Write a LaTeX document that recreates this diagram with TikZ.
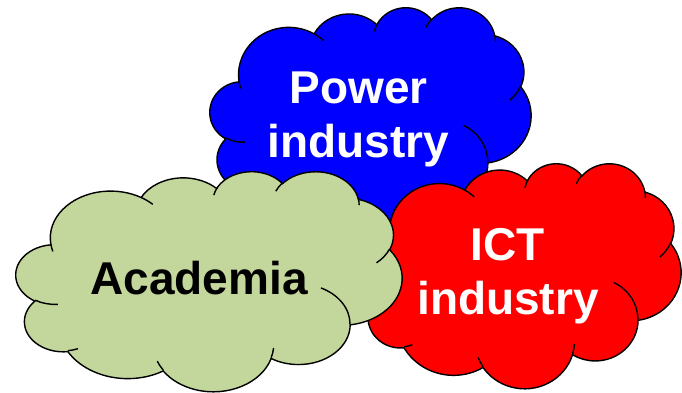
\documentclass[tikz,border=0pt]{standalone}
\usepackage{fontspec}
\setmainfont{Liberation Sans}

\definecolor{powerblue}{RGB}{0,0,255}
\definecolor{ictred}{RGB}{255,0,0}
\definecolor{academiagreen}{RGB}{195,214,155}

% puffs of the outline, in a 432 x 432 box: x radius/y radius/start/sweep
\newcommand\cloudpuffs{67.53/91.90/-190.487/123.781,
  53.33/72.67/-144.102/89.945,
  43.65/59.45/-145.808/99.723,
  48.57/65.95/-130.986/117.242,
  53.33/72.73/-78.709/109.027,
  67.75/92.20/-46.267/130.269,
  57.85/78.67/0.625/114.033,
  67.52/92.15/22.452/115.173,
  77.20/105.43/66.243/75.711,
  43.60/59.18/-274.942/146.736,
  43.45/59.45/-246.829/152.519}
% small folds inside: x/y/x radius/y radius/start/sweep
\newcommand\cloudfolds{46.93/261.77/43.45/59.45/86.742/26.430,
  69.28/348.99/43.60/59.18/73.611/11.448,
  164.78/390.90/67.52/92.15/137.624/14.081,
  288.27/347.51/67.52/92.15/6.453/15.998,
  341.29/229.54/57.85/78.67/-70.292/70.917,
  417.98/153.54/53.33/72.73/30.318/27.752,
  383.24/54.26/48.57/65.95/-13.744/14.859,
  290.78/39.52/48.57/65.95/-149.182/18.195,
  221.41/47.20/43.65/59.45/-163.494/17.686,
  140.00/51.92/67.53/91.90/-66.707/12.319,
  41.27/157.89/67.53/91.90/157.654/11.858}

% fill, left, top, width, height
\newcommand\drawcloud[5]{%
  \begin{scope}[shift={(#2,#3)},xscale=#4/432,yscale=#5/432]
    \filldraw[puffline,fill=#1] (39.00,143.70)
      \foreach \rx/\ry/\st/\sw [evaluate=\st as \ta using {atan2(\rx*sin(\st),\ry*cos(\st))},
          evaluate=\sw as \tb using {atan2(\rx*sin(\st+\sw),\ry*cos(\st+\sw))},
          evaluate=\sw as \td using {mod(\tb-\ta+720,360)}] in \cloudpuffs
      { arc[start angle=\ta,delta angle=\td,x radius=\rx,y radius=\ry] } -- cycle;
    \foreach \px/\py/\rx/\ry/\st/\sw [evaluate=\st as \ta using {atan2(\rx*sin(\st),\ry*cos(\st))},
        evaluate=\sw as \tb using {atan2(\rx*sin(\st+\sw),\ry*cos(\st+\sw))},
        evaluate=\sw as \td using {mod(\tb-\ta+720,360)}] in \cloudfolds
      \draw[puffline] (\px,\py) arc[start angle=\ta,delta angle=\td,x radius=\rx,y radius=\ry];
  \end{scope}}

\begin{document}
\begin{tikzpicture}[x=1pt,y=-1pt,
	puffline/.style={draw=black,line width=1.4pt},
	cloudtext/.style={font=\fontsize{46}{54}\selectfont\bfseries,align=center,inner sep=0pt,anchor=base}]
\useasboundingbox (0,0) rectangle (682,392);
\drawcloud{powerblue}{210}{7}{321}{223}
\node[cloudtext,text=white] (power) at (358.5,157) {Power\\industry};
\drawcloud{ictred}{361}{163}{320}{225}
\node[cloudtext,text=white] (ict) at (508,314) {ICT\\industry};
\drawcloud{academiagreen}{16}{171}{386}{220}
\node[cloudtext] (academia) at (199,294) {Academia};
\end{tikzpicture}
\end{document}
